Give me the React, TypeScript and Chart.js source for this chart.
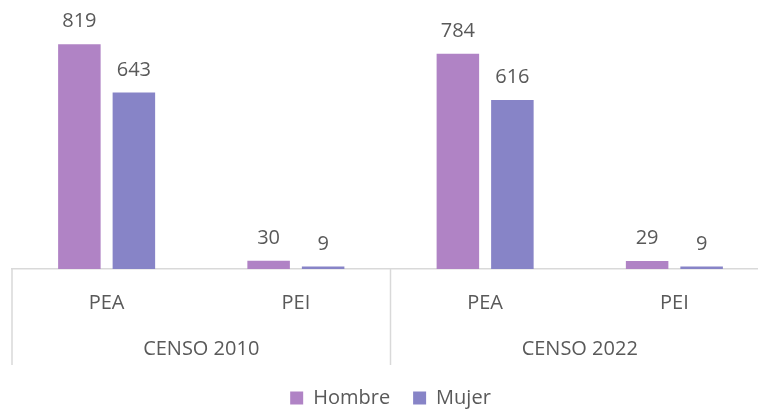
import React, { useEffect, useRef } from "react";
import { Chart, registerables } from "chart.js";

Chart.register(...registerables);

const categories = ["PEA", "PEI", "PEA", "PEI"];
const groups = ["CENSO 2010", "CENSO 2022"];
const hombre = [819, 30, 784, 29];
const mujer = [643, 9, 616, 9];

const FONT = "'Open Sans', sans-serif";
const TEXT = "#595959";
const LINE = "#d9d9d9";

const decorPlugin = {
  id: "decor",
  afterDraw(chart: any) {
    const { ctx, chartArea } = chart;
    const x = chart.scales.x;
    ctx.save();
    // data labels
    ctx.font = `20px ${FONT}`;
    ctx.fillStyle = TEXT;
    ctx.textAlign = "center";
    ctx.textBaseline = "alphabetic";
    chart.data.datasets.forEach((ds: any, di: number) => {
      const meta = chart.getDatasetMeta(di);
      meta.data.forEach((bar: any, i: number) => {
        ctx.fillText(String(ds.data[i]), bar.x, bar.y - 17);
      });
    });
    // separators
    const half = (x.getPixelForValue(1) - x.getPixelForValue(0)) / 2;
    const seps = [
      x.getPixelForValue(0) - half,
      (x.getPixelForValue(1) + x.getPixelForValue(2)) / 2,
      x.getPixelForValue(3) + half,
    ];
    ctx.strokeStyle = LINE;
    ctx.lineWidth = 1.5;
    const top = chartArea.bottom;
    seps.forEach((sx) => {
      ctx.beginPath();
      ctx.moveTo(sx, top);
      ctx.lineTo(sx, top + 96);
      ctx.stroke();
    });
    // group labels
    groups.forEach((g, gi) => {
      const cx = (seps[gi] + seps[gi + 1]) / 2;
      ctx.fillText(g, cx, top + 86);
    });
    ctx.restore();
  },
};

export default function App() {
  const ref = useRef<HTMLCanvasElement>(null);
  useEffect(() => {
    if (!ref.current) return;
    const chart = new Chart(ref.current, {
      type: "bar",
      data: {
        labels: categories,
        datasets: [
          { label: "Hombre", data: hombre, backgroundColor: "#b083c5", barPercentage: 0.78, categoryPercentage: 0.576 },
          { label: "Mujer", data: mujer, backgroundColor: "#8784c7", barPercentage: 0.78, categoryPercentage: 0.576 },
        ],
      },
      options: {
        responsive: false,
        animation: false,
        layout: { padding: { left: 12, right: 21, top: 22, bottom: -5 } },
        scales: {
          x: {
            grid: { display: false, drawTicks: false },
            border: { color: LINE, width: 1.5 },
            ticks: { color: TEXT, font: { family: FONT, size: 20 }, padding: 22 },
            afterFit: (s: any) => {
              s.height = 96;
            },
          },
          y: { display: false, min: 0, max: 900 },
        },
        plugins: {
          legend: {
            position: "bottom",
            labels: {
              boxWidth: 13,
              boxHeight: 13,
              padding: 23,
              color: TEXT,
              font: { family: FONT, size: 20 },
            },
          },
          tooltip: { enabled: false },
        },
      },
      plugins: [decorPlugin],
    });
    return () => chart.destroy();
  }, []);
  return (
    <div style={{ position: "fixed", left: 0, top: 0, width: 758, height: 413, overflow: "hidden", background: "#fff" }}>
      <canvas ref={ref} width={790} height={413} style={{ display: "block" }} />
    </div>
  );
}
